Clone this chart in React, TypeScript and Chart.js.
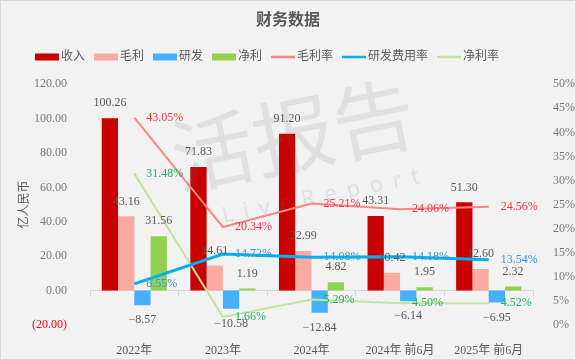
import React, { useEffect, useRef } from 'react';
import { Chart, registerables } from 'chart.js';

Chart.register(...registerables);

const FONT = '"Liberation Serif", "Noto Sans CJK SC", serif';
const GRAY = '#595959';

const categories = ['2022年', '2023年', '2024年', '2024年 前6月', '2025年 前6月'];
const revenue = [100.26, 71.83, 91.2, 43.31, 51.3];
const grossProfit = [43.16, 14.61, 22.99, 10.42, 12.6];
const rnd = [-8.57, -10.58, -12.84, -6.14, -6.95];
const netProfit = [31.56, 1.19, 4.82, 1.95, 2.32];
const grossMargin = [43.05, 20.34, 25.21, 24.06, 24.56];
const rndRate = [8.55, 14.72, 14.08, 14.18, 13.54];
const netMargin = [31.48, 1.66, 5.29, 4.5, 4.52];

const leftMin = -20;
const leftMax = 120;
const leftStep = 20;
const rightMin = 0;
const rightMax = 50;
const rightStep = 5;

const watermarkPlugin = {
  id: 'watermark',
  afterDatasetsDraw(chart: any) {
    const ctx = chart.ctx;
    ctx.save();
    ctx.fillStyle = 'rgba(110,110,110,0.13)';
    ctx.translate(292, 134);
    ctx.rotate(-0.2);
    ctx.font = '82px "Noto Sans CJK SC", sans-serif';
    ctx.textAlign = 'center';
    ctx.textBaseline = 'middle';
    ctx.fillText('活报告', 0, 0);
    ctx.font = '22px "Noto Sans", sans-serif';
    (ctx as any).letterSpacing = '10px';
    ctx.fillText('LiveReport', 20, 66);
    ctx.restore();
  },
};

const valueLabelPlugin = {
  id: 'valueLabels',
  afterDatasetsDraw(chart: any) {
    const ctx = chart.ctx;
    ctx.save();
    ctx.font = `12px ${FONT}`;
    chart.data.datasets.forEach((ds: any, i: number) => {
      const meta = chart.getDatasetMeta(i);
      if (meta.hidden) return;
      meta.data.forEach((el: any, j: number) => {
        const v = ds.data[j];
        if (ds.type === 'line') {
          ctx.fillStyle = ds.labelColor;
          ctx.textAlign = 'left';
          ctx.textBaseline = 'middle';
          ctx.fillText(v.toFixed(2) + '%', el.x + 12, el.y);
        } else {
          ctx.fillStyle = GRAY;
          ctx.textAlign = 'center';
          ctx.textBaseline = 'middle';
          const txt = v < 0 ? '\u2212' + Math.abs(v).toFixed(2) : v.toFixed(2);
          ctx.fillText(txt, el.x, v < 0 ? el.y + 15 : el.y - 15);
        }
      });
    });
    ctx.restore();
  },
};

const legendPlugin = {
  id: 'customLegend',
  afterDraw(chart: any) {
    const ctx = chart.ctx;
    ctx.save();
    ctx.font = `12px ${FONT}`;
    ctx.textBaseline = 'middle';
    ctx.textAlign = 'left';
    let x = 34;
    const y = 56;
    chart.data.datasets.forEach((ds: any) => {
      if (ds.type === 'line') {
        ctx.strokeStyle = ds.borderColor;
        ctx.lineWidth = 2.5;
        ctx.beginPath();
        ctx.moveTo(x, y);
        ctx.lineTo(x + 24, y);
        ctx.stroke();
      } else {
        ctx.fillStyle = ds.backgroundColor;
        ctx.fillRect(x, y - 3.5, 24, 7);
      }
      x += 26;
      ctx.fillStyle = GRAY;
      ctx.fillText(ds.label, x, y);
      x += ctx.measureText(ds.label).width + 9;
    });
    ctx.restore();
  },
};

export default function App() {
  const ref = useRef<HTMLCanvasElement>(null);

  useEffect(() => {
    if (!ref.current) return;
    Chart.defaults.font.family = FONT;
    const barCommon = { categoryPercentage: 0.735, barPercentage: 1, order: 1, borderWidth: 0 };
    const lineCommon = { yAxisID: 'y1', pointRadius: 0, pointHoverRadius: 0, tension: 0, fill: false, order: 0 };
    const chart = new Chart(ref.current, {
      type: 'bar',
      data: {
        labels: categories,
        datasets: [
          { type: 'bar', label: '收入', data: revenue, backgroundColor: '#C80000', ...barCommon },
          { type: 'bar', label: '毛利', data: grossProfit, backgroundColor: '#F9ABA2', ...barCommon },
          { type: 'bar', label: '研发', data: rnd, backgroundColor: '#45B0FC', ...barCommon },
          { type: 'bar', label: '净利', data: netProfit, backgroundColor: '#92D050', ...barCommon },
          { type: 'line', label: '毛利率', data: grossMargin, borderColor: '#FF8585', borderWidth: 2, labelColor: '#FF2E3C', ...lineCommon },
          { type: 'line', label: '研发费用率', data: rndRate, borderColor: '#00B0F0', borderWidth: 3, labelColor: '#2E96E0', ...lineCommon },
          { type: 'line', label: '净利率', data: netMargin, borderColor: '#C2E3A0', borderWidth: 2, labelColor: '#22B35E', ...lineCommon },
        ] as any,
      },
      options: {
        animation: false,
        responsive: true,
        maintainAspectRatio: false,
        layout: { padding: 0 },
        plugins: {
          legend: { display: false },
          tooltip: { enabled: false },
          title: {
            display: true,
            text: '财务数据',
            color: GRAY,
            font: { size: 16, weight: 'bold', family: FONT },
            padding: { top: 10, bottom: 54 },
          },
        },
        scales: {
          x: {
            type: 'category',
            offset: true,
            grid: { display: false },
            border: { display: false },
            ticks: { color: GRAY, font: { size: 12 }, padding: 11, maxRotation: 0, autoSkip: false },
            afterFit: (s: any) => { s.height = 34; },
          },
          xZero: {
            type: 'category',
            position: { y: 0 },
            offset: true,
            grid: { display: true, drawOnChartArea: false, drawTicks: true, tickLength: 5, color: '#D9D9D9', offset: true },
            border: { display: true, color: '#D9D9D9', width: 1 },
            ticks: { display: false },
          },
          y: {
            type: 'linear',
            position: 'left',
            min: leftMin,
            max: leftMax,
            grid: { display: false },
            border: { display: false },
            ticks: {
              stepSize: leftStep,
              padding: 15,
              font: { size: 12 },
              color: (c: any) => (c.tick && c.tick.value < 0 ? '#FF0000' : '#7A7A7A'),
              callback: (v: any) => (v < 0 ? `(${Math.abs(v).toFixed(2)})` : Number(v).toFixed(2)),
            },
            title: { display: true, text: '亿人民币', color: GRAY, font: { size: 12 }, padding: { top: 17, bottom: 0 } },
            afterFit: (s: any) => { s.width = 89; },
          },
          y1: {
            type: 'linear',
            position: 'right',
            min: rightMin,
            max: rightMax,
            grid: { display: false },
            border: { display: false },
            ticks: {
              stepSize: rightStep,
              padding: 12,
              font: { size: 12 },
              color: '#7A7A7A',
              callback: (v: any) => `${v}%`,
            },
            afterFit: (s: any) => { s.width = 42; },
          },
        },
      } as any,
      plugins: [watermarkPlugin, valueLabelPlugin, legendPlugin],
    });
    return () => chart.destroy();
  }, []);

  return (
    <div
      style={{
        position: 'fixed',
        left: 0,
        top: 0,
        width: 576,
        height: 360,
        boxSizing: 'border-box',
        border: '1px solid #D9D9D9',
        background: '#F2F2F2',
      }}
    >
      <div style={{ position: 'relative', width: 574, height: 358 }}>
        <canvas ref={ref} />
      </div>
    </div>
  );
}
